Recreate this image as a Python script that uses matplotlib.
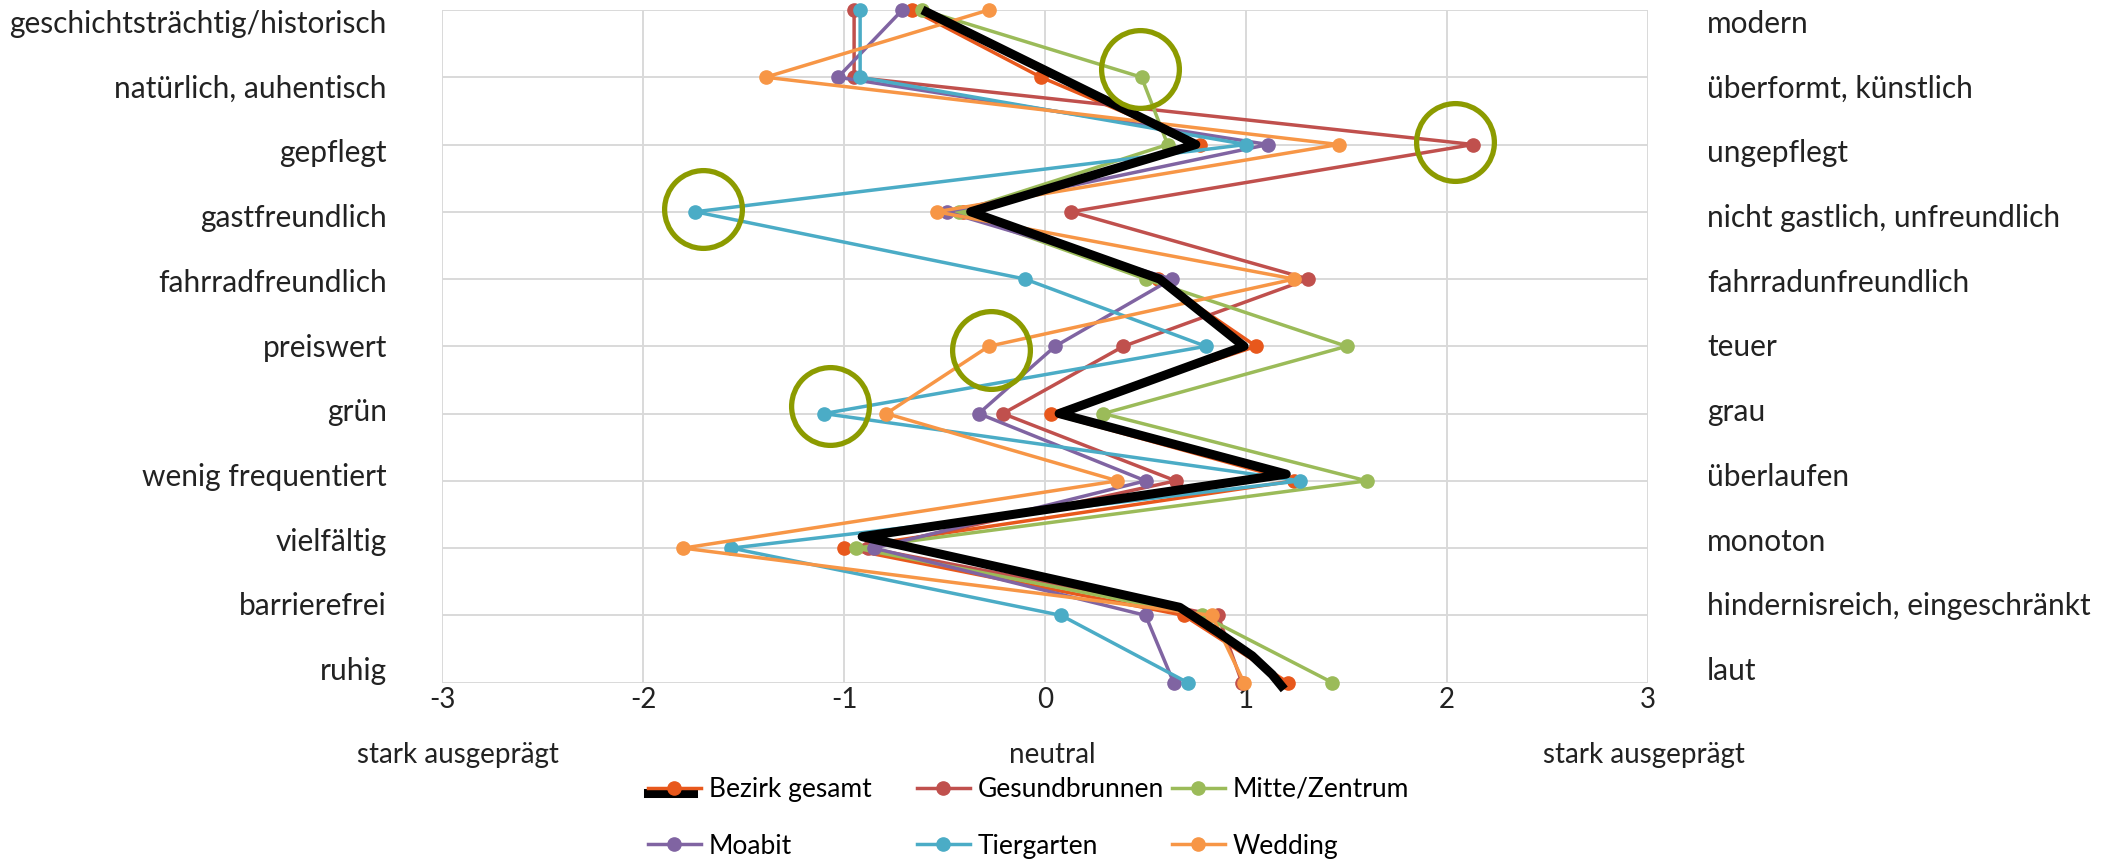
import numpy as np
import matplotlib
matplotlib.use("Agg")
import matplotlib.pyplot as plt
from matplotlib.lines import Line2D
from matplotlib.legend_handler import HandlerLine2D, HandlerTuple

plt.rcParams['font.family'] = ['Lato', 'DejaVu Sans']

# Polaritätsprofil: Wortpaare links / rechts
left_terms = ["geschichtsträchtig/historisch", "natürlich, auhentisch", "gepflegt",
              "gastfreundlich", "fahrradfreundlich", "preiswert", "grün",
              "wenig frequentiert", "vielfältig", "barrierefrei", "ruhig"]
right_terms = ["modern", "überformt, künstlich", "ungepflegt",
               "nicht gastlich, unfreundlich", "fahrradunfreundlich", "teuer", "grau",
               "überlaufen", "monoton", "hindernisreich, eingeschränkt", "laut"]

series_names = ["Bezirk gesamt", "Gesundbrunnen", "Mitte/Zentrum",
                "Moabit", "Tiergarten", "Wedding"]
bezirk = [-0.66, -0.02, 0.77, -0.41, 0.56, 1.05, 0.03, 1.24, -1.00, 0.69, 1.21]
gesundbrunnen = [-0.95, -0.95, 2.13, 0.13, 1.31, 0.39, -0.21, 0.65, -0.88, 0.86, 0.98]
mitte = [-0.61, 0.48, 0.61, -0.43, 0.50, 1.50, 0.29, 1.60, -0.94, 0.78, 1.43]
moabit = [-0.71, -1.03, 1.11, -0.49, 0.63, 0.05, -0.33, 0.50, -0.85, 0.50, 0.64]
tiergarten = [-0.92, -0.92, 1.00, -1.74, -0.10, 0.80, -1.10, 1.27, -1.56, 0.08, 0.71]
wedding = [-0.28, -1.39, 1.46, -0.54, 1.24, -0.28, -0.79, 0.36, -1.80, 0.83, 0.99]
series_colors = ["#E8581C", "#C0504D", "#9BBB59", "#8064A2", "#4BACC6", "#F79646"]

# nachgezeichneter Verlauf (Bezirk gesamt), Zeile als y
trend_x = [-0.61, 0.75, -0.37, 0.57, 0.99, 0.07, 1.20, -0.91, 0.67, 0.86, 1.03, 1.13, 1.19]
trend_y = [0.0, 2.0, 3.0, 4.0, 5.0, 6.0, 6.9, 7.83, 8.88, 9.25, 9.6, 9.88, 10.1]

# markierte Ausreißer
circle_x = [0.47, 2.04, -1.70, -0.27, -1.07]
circle_y = [0.88, 1.96, 2.96, 5.06, 5.89]

x_ticks = [-3, -2, -1, 0, 1, 2, 3]

TXT = '#222222'

fig = plt.figure(figsize=(21.04, 8.59), dpi=100)
ax = fig.add_axes([0.2101, 0.2053, 0.5732, 0.7831])

rows = np.arange(len(left_terms))
all_values = [bezirk, gesundbrunnen, mitte, moabit, tiergarten, wedding]
handles = []
for name, vals, col in zip(series_names, all_values, series_colors):
    h, = ax.plot(vals, rows, '-o', color=col, lw=2.5, ms=9.5, label=name,
                 clip_on=False, zorder=3)
    handles.append(h)

ax.plot(trend_x, trend_y, color='black', lw=6.5, solid_joinstyle='round',
        solid_capstyle='butt', clip_on=False, zorder=5)
ax.plot(circle_x, circle_y, 'o', ms=56, mfc='none', mec='#8C9B00', mew=3.8,
        clip_on=False, zorder=6)

ax.set_xlim(-3, 3)
ax.set_ylim(10, 0)
ax.set_xticks(x_ticks)
ax.set_xticklabels([str(t) for t in x_ticks])
ax.set_yticks(rows)
ax.set_yticklabels([])
ax.tick_params(length=0, labelsize=20, labelcolor=TXT, pad=3)
ax.grid(True, color='#D9D9D9', lw=1.4)
ax.set_axisbelow(True)
for s in ax.spines.values():
    s.set_visible(False)

# Beschriftung der Wortpaare
for i, (lt, rt) in enumerate(zip(left_terms, right_terms)):
    yf = 1 - (24 + i * 64.7) / 859
    fig.text(387 / 2104, yf, lt, ha='right', va='center', fontsize=21.5, color=TXT)
    fig.text(1707 / 2104, yf, rt, ha='left', va='center', fontsize=21.5, color=TXT)

fig.text(458 / 2104, 1 - 755 / 859, "stark ausgeprägt", ha='center', va='center',
         fontsize=20, color=TXT)
fig.text(1052 / 2104, 1 - 755 / 859, "neutral", ha='center', va='center',
         fontsize=20, color=TXT)
fig.text(1644 / 2104, 1 - 755 / 859, "stark ausgeprägt", ha='center', va='center',
         fontsize=20, color=TXT)


class LowerLine(HandlerLine2D):
    # schwarzer Strich in der Legende etwas tiefer und kürzer
    def create_artists(self, legend, orig_handle, xdescent, ydescent,
                       width, height, fontsize, trans):
        arts = super().create_artists(legend, orig_handle, xdescent, ydescent,
                                      width * 0.85, height, fontsize, trans)
        for a in arts:
            a.set_ydata(np.asarray(a.get_ydata()) - height * 0.3)
        return arts


legend_trend = Line2D([], [], color='black', lw=6.5)
entries = [(legend_trend, handles[0])] + handles[1:]
hmap = {tuple: HandlerTuple(ndivide=1), legend_trend: LowerLine()}

# Legende: drei Spalten mit festen Abständen, je zwei Einträge
col_left = [648, 917, 1172]
for c, x0 in enumerate(col_left):
    fig.legend([entries[c], entries[c + 3]], [series_names[c], series_names[c + 3]],
               loc='upper left', ncol=1,
               bbox_to_anchor=(x0 / 2104, 1 - 777 / 859), frameon=False,
               fontsize=19, handlelength=2.0, handletextpad=0.3,
               labelspacing=1.2, borderpad=0, borderaxespad=0,
               handler_map=hmap)

fig.savefig("out.png", dpi=100, facecolor='white')
